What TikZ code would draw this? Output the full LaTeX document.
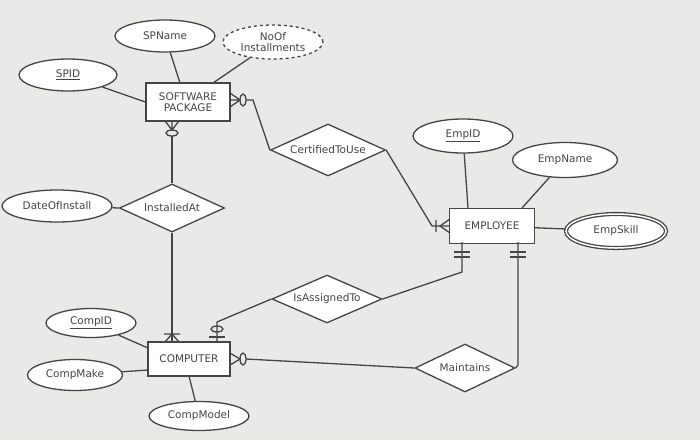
\documentclass[tikz,border=0pt]{standalone}
\usepackage{fontspec}
\setmainfont{DejaVu Sans}
\usetikzlibrary{shapes.geometric}
\definecolor{ink}{HTML}{454545}
\definecolor{bg}{HTML}{E9E9E7}
\begin{document}
\begin{tikzpicture}[x=1pt,y=-1pt,line width=1.3pt,draw=ink,
  every node/.style={font=\fontsize{10.5}{11.5}\selectfont,text=ink},
  attr/.style={ellipse,draw=ink,fill=white,minimum width=#1,minimum height=32,inner sep=0pt},
  ent/.style={rectangle,draw=ink,fill=white,align=center,inner sep=2pt},
  rel/.style={diamond,draw=ink,fill=white,aspect=2.2,inner sep=0pt,minimum width=#1,minimum height=48}]
\fill[bg] (0,0) rectangle (700,440);
\useasboundingbox (0,0) rectangle (700,440);
% nodes
\node[attr=100] (spname) at (165,36) {SPName};
\node[attr=100,dashed,minimum height=34,align=center] (noof) at (273,42) {NoOf\\Installments};
\node[attr=98] (spid) at (68,75) {\underline{SPID}};
\node[ent,minimum width=84,minimum height=38] (sw) at (188,102) {SOFTWARE\\PACKAGE};
\node[rel=115,minimum height=52] (cert) at (328,150) {CertifiedToUse};
\node[attr=100,minimum height=34] (empid) at (463,136) {\underline{EmpID}};
\node[attr=105,minimum height=35] (empname) at (565,160) {EmpName};
\node[ent,minimum width=85,minimum height=35] (emp) at (492,226) {EMPLOYEE};
\node[attr=100,double,double distance=1.5pt,minimum height=34] (skill) at (616,231) {EmpSkill};
\node[attr=110] (doi) at (57,206) {DateOfInstall};
\node[rel=105] (inst) at (172,208) {InstalledAt};
\node[rel=110] (isa) at (327,299) {IsAssignedTo};
\node[attr=90,minimum height=29] (compid) at (91,323) {\underline{CompID}};
\node[ent,minimum width=82,minimum height=34] (comp) at (189,359) {COMPUTER};
\node[attr=95,minimum height=31] (compmake) at (75,375) {CompMake};
\node[rel=100] (maint) at (465,368) {Maintains};
\node[attr=100,minimum height=29] (compmodel) at (199,416) {CompModel};
% attribute links
\draw (spname) -- (180,83);
\draw (noof) -- (213,83);
\draw (spid) -- (sw.west);
\draw (empid) -- (468,208);
\draw (empname) -- (522,208);
\draw (emp) -- (skill);
\draw (doi) -- (inst.west);
\draw (compid) -- (148,348);
\draw (compmake) -- (148,370);
\draw (compmodel) -- (189,376);
% SW - Certified (zero or many)
\draw (230,93)--(240,100)--(230,107) (230,100)--(240,100);
\draw (243,100) ellipse [x radius=3,y radius=6];
\draw (246,100)--(253,100)--(cert.west);
% Certified - Employee (one or many)
\draw (cert.east)--(432,226)--(emp.west);
\draw (450,219)--(440,226)--(450,233) (436,220)--(436,232);
% SW - InstalledAt
\draw (165,121)--(172,130)--(179,121) (172,121)--(172,130);
\draw (172,133) ellipse [x radius=6,y radius=3];
\draw (172,136)--(inst.north);
% InstalledAt - Computer
\draw (inst.south)--(172,342);
\draw (164,334)--(180,334) (165,342)--(172,334)--(179,342);
% IsAssignedTo - Computer
\draw (isa.west)--(217,322)--(217,342);
\draw (217,329) ellipse [x radius=6,y radius=3];
\draw (209,337)--(225,337);
% IsAssignedTo - Employee
\draw (isa.east)--(462,272)--(462,242);
\draw (454,252)--(470,252) (454,257)--(470,257);
% Computer - Maintains
\draw (230,353)--(240,359)--(230,365);
\draw (243,359) ellipse [x radius=3,y radius=6];
\draw (246,359)--(maint.west);
% Maintains - Employee
\draw (maint.east)--(518,365)--(518,242);
\draw (510,252)--(526,252) (510,257)--(526,257);
\end{tikzpicture}
\end{document}
